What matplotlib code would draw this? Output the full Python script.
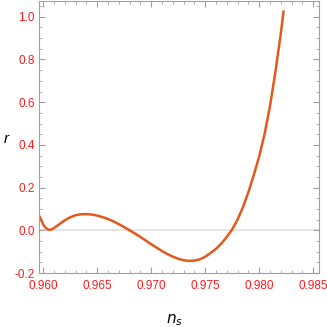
import matplotlib
matplotlib.use("Agg")
import matplotlib.pyplot as plt
from matplotlib.ticker import MultipleLocator, FormatStrFormatter

plt.rcParams['font.family'] = ['Liberation Sans Narrow', 'Liberation Sans', 'DejaVu Sans']

# values
ns = [0.95955, 0.9598, 0.9600, 0.9602, 0.9604, 0.96056, 0.9608, 0.9610, 0.9615,
      0.9620, 0.9625, 0.9630, 0.9635, 0.9640, 0.9645, 0.9650, 0.9655, 0.9660,
      0.9665, 0.9670, 0.9675, 0.9680, 0.9685, 0.9690, 0.9695, 0.9700, 0.9705,
      0.9710, 0.9715, 0.9720, 0.9725, 0.9730, 0.9735, 0.9740, 0.9745, 0.9750,
      0.9755, 0.9760, 0.9765, 0.9770, 0.9775, 0.9780, 0.9785, 0.9790, 0.9795,
      0.9800, 0.9805, 0.9810, 0.9815, 0.9820, 0.98226]
r = [0.076, 0.050, 0.027, 0.013, 0.005, 0.002, 0.005, 0.011, 0.029,
     0.047, 0.061, 0.071, 0.075, 0.076, 0.074, 0.069, 0.062, 0.053,
     0.042, 0.029, 0.015, 0.000, -0.015, -0.031, -0.048, -0.065, -0.081,
     -0.097, -0.111, -0.123, -0.133, -0.140, -0.143, -0.142, -0.136, -0.124,
     -0.106, -0.087, -0.062, -0.031, 0.004, 0.050, 0.108, 0.178, 0.258,
     0.345, 0.450, 0.580, 0.739, 0.919, 1.024]

red = '#FF1A1A'
frame = '#A0A0A0'

fig = plt.figure(figsize=(3.27, 3.27), dpi=100)
ax = fig.add_axes([0.119, 0.165, 0.857, 0.832])

ax.axhline(0, color='#E0E0E0', lw=1.2, zorder=1)
ax.plot(ns, r, color='#E5581A', lw=1.8, zorder=2, solid_joinstyle='round')

ax.set_xlim(0.9596, 0.98556)
ax.set_ylim(-0.2, 1.074)

ax.xaxis.set_major_locator(MultipleLocator(0.005))
ax.xaxis.set_minor_locator(MultipleLocator(0.001))
ax.yaxis.set_major_locator(MultipleLocator(0.2))
ax.yaxis.set_minor_locator(MultipleLocator(0.05))
ax.xaxis.set_major_formatter(FormatStrFormatter('%.3f'))
ax.yaxis.set_major_formatter(FormatStrFormatter('%.1f'))

for s in ax.spines.values():
    s.set_color(frame)
    s.set_linewidth(0.8)

ax.tick_params(which='both', direction='in', top=True, right=True,
               color=frame, labelcolor=red, labelsize=8.5)
ax.tick_params(which='major', length=4, width=0.8)
ax.tick_params(axis='x', which='major', pad=5)
ax.tick_params(axis='y', which='major', pad=3)
ax.tick_params(which='minor', length=2.2, width=0.6)

fig.text(0.018, 0.575, 'r', fontstyle='italic', fontsize=11, color='black',
         ha='center', va='center')
fig.text(0.535, 0.022, '$n_s$', fontsize=11, color='black', ha='center', va='center')

fig.savefig('out.png', dpi=100)
